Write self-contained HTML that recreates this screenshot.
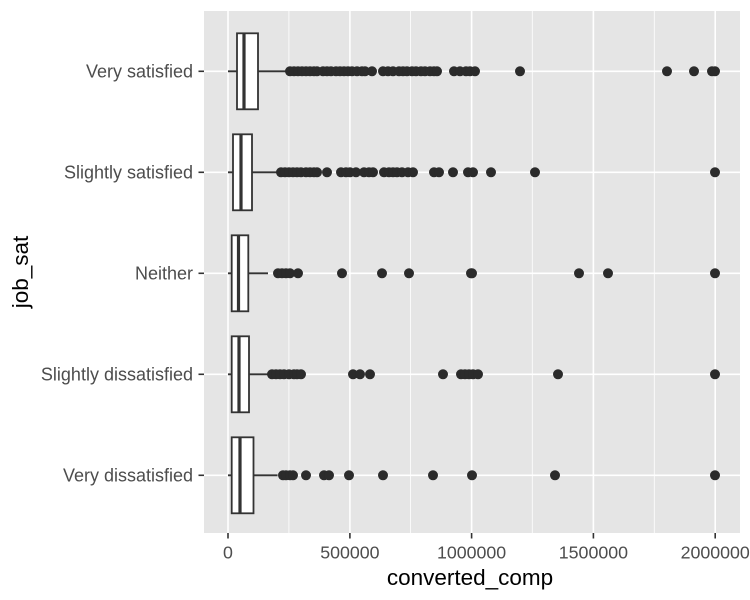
<!DOCTYPE html>
<html><head><meta charset="utf-8"><style>body{margin:0;background:#fff}svg{display:block}</style></head>
<body>
<svg width="750" height="600" xmlns="http://www.w3.org/2000/svg" font-family="Liberation Sans, sans-serif">
<rect x="0" y="0" width="750" height="600" fill="#fff"/>
<rect x="204" y="11" width="536" height="522" fill="#e5e5e5"/>
<g stroke="#fff" stroke-width="0.8">
<line x1="288.9" y1="11" x2="288.9" y2="533"/><line x1="410.5" y1="11" x2="410.5" y2="533"/>
<line x1="532.3" y1="11" x2="532.3" y2="533"/><line x1="654.3" y1="11" x2="654.3" y2="533"/>
</g>
<g stroke="#fff" stroke-width="1.6">
<line x1="228" y1="11" x2="228" y2="533"/><line x1="349.9" y1="11" x2="349.9" y2="533"/>
<line x1="471.6" y1="11" x2="471.6" y2="533"/><line x1="593.4" y1="11" x2="593.4" y2="533"/>
<line x1="715.2" y1="11" x2="715.2" y2="533"/>
<line x1="204" y1="71.3" x2="740" y2="71.3"/><line x1="204" y1="172.3" x2="740" y2="172.3"/>
<line x1="204" y1="273.3" x2="740" y2="273.3"/><line x1="204" y1="374.3" x2="740" y2="374.3"/>
<line x1="204" y1="475.3" x2="740" y2="475.3"/>
</g>
<g stroke="#333" stroke-width="1.8" fill="#fff">
<line x1="228" y1="71.3" x2="288" y2="71.3"/><rect x="237" y="33.3" width="21" height="76"/><line x1="244" y1="33.3" x2="244" y2="109.3" stroke-width="3.2"/>
<line x1="228" y1="172.3" x2="278" y2="172.3"/><rect x="233" y="134.3" width="19" height="76"/><line x1="241" y1="134.3" x2="241" y2="210.3" stroke-width="3.2"/>
<line x1="228" y1="273.3" x2="268" y2="273.3"/><rect x="231.7" y="235.3" width="16.6" height="76"/><line x1="238.5" y1="235.3" x2="238.5" y2="311.3" stroke-width="3.2"/>
<line x1="228" y1="374.3" x2="269" y2="374.3"/><rect x="231.7" y="336.3" width="17.3" height="76"/><line x1="239" y1="336.3" x2="239" y2="412.3" stroke-width="3.2"/>
<line x1="228" y1="475.3" x2="277.6" y2="475.3"/><rect x="231.7" y="437.3" width="21.8" height="76"/><line x1="240" y1="437.3" x2="240" y2="513.3" stroke-width="3.2"/>
</g>
<g fill="#2b2b2b">
<g transform="translate(0,71.3)">
<circle cx="290" r="5"/><circle cx="294" r="5"/><circle cx="298" r="5"/><circle cx="302" r="5"/><circle cx="306" r="5"/><circle cx="310" r="5"/><circle cx="314" r="5"/><circle cx="317" r="5"/><circle cx="323" r="5"/><circle cx="327" r="5"/><circle cx="331" r="5"/><circle cx="336" r="5"/><circle cx="340" r="5"/><circle cx="344" r="5"/><circle cx="348" r="5"/><circle cx="352" r="5"/><circle cx="357" r="5"/><circle cx="362" r="5"/><circle cx="365" r="5"/><circle cx="372" r="5"/><circle cx="383" r="5"/><circle cx="388" r="5"/><circle cx="393" r="5"/><circle cx="399" r="5"/><circle cx="403" r="5"/><circle cx="407" r="5"/><circle cx="412" r="5"/><circle cx="416" r="5"/><circle cx="421" r="5"/><circle cx="425" r="5"/><circle cx="430" r="5"/><circle cx="434" r="5"/><circle cx="437" r="5"/><circle cx="454" r="5"/><circle cx="460" r="5"/><circle cx="466" r="5"/><circle cx="470" r="5"/><circle cx="475" r="5"/><circle cx="520" r="5"/><circle cx="667" r="5"/><circle cx="694" r="5"/><circle cx="712" r="5"/><circle cx="715" r="5"/>
</g>
<g transform="translate(0,172.3)">
<circle cx="281" r="5"/><circle cx="285" r="5"/><circle cx="289" r="5"/><circle cx="293" r="5"/><circle cx="297" r="5"/><circle cx="301" r="5"/><circle cx="306" r="5"/><circle cx="310" r="5"/><circle cx="314" r="5"/><circle cx="317" r="5"/><circle cx="327" r="5"/><circle cx="341" r="5"/><circle cx="346" r="5"/><circle cx="350" r="5"/><circle cx="356" r="5"/><circle cx="364" r="5"/><circle cx="369" r="5"/><circle cx="373" r="5"/><circle cx="384" r="5"/><circle cx="389" r="5"/><circle cx="393" r="5"/><circle cx="397" r="5"/><circle cx="402" r="5"/><circle cx="408" r="5"/><circle cx="413" r="5"/><circle cx="434" r="5"/><circle cx="439" r="5"/><circle cx="453" r="5"/><circle cx="468" r="5"/><circle cx="473" r="5"/><circle cx="491" r="5"/><circle cx="535" r="5"/><circle cx="715" r="5"/>
</g>
<g transform="translate(0,273.3)">
<circle cx="278" r="5"/><circle cx="282" r="5"/><circle cx="286" r="5"/><circle cx="290" r="5"/><circle cx="298" r="5"/><circle cx="342" r="5"/><circle cx="382" r="5"/><circle cx="409" r="5"/><circle cx="471" r="5"/><circle cx="472" r="5"/><circle cx="579" r="5"/><circle cx="608" r="5"/><circle cx="715" r="5"/>
</g>
<g transform="translate(0,374.3)">
<circle cx="272" r="5"/><circle cx="276" r="5"/><circle cx="280" r="5"/><circle cx="284" r="5"/><circle cx="289" r="5"/><circle cx="294" r="5"/><circle cx="297" r="5"/><circle cx="301" r="5"/><circle cx="353" r="5"/><circle cx="360" r="5"/><circle cx="370" r="5"/><circle cx="443" r="5"/><circle cx="461" r="5"/><circle cx="465" r="5"/><circle cx="469" r="5"/><circle cx="473" r="5"/><circle cx="478" r="5"/><circle cx="558" r="5"/><circle cx="715" r="5"/>
</g>
<g transform="translate(0,475.3)">
<circle cx="283" r="5"/><circle cx="286" r="5"/><circle cx="290" r="5"/><circle cx="293" r="5"/><circle cx="306" r="5"/><circle cx="324" r="5"/><circle cx="329" r="5"/><circle cx="349" r="5"/><circle cx="383" r="5"/><circle cx="433" r="5"/><circle cx="472" r="5"/><circle cx="555" r="5"/><circle cx="715" r="5"/>
</g>
</g>
<g stroke="#333" stroke-width="1.6">
<line x1="198.5" y1="71.3" x2="204" y2="71.3"/><line x1="198.5" y1="172.3" x2="204" y2="172.3"/><line x1="198.5" y1="273.3" x2="204" y2="273.3"/><line x1="198.5" y1="374.3" x2="204" y2="374.3"/><line x1="198.5" y1="475.3" x2="204" y2="475.3"/>
<line x1="228" y1="533" x2="228" y2="538.5"/><line x1="349.9" y1="533" x2="349.9" y2="538.5"/><line x1="471.6" y1="533" x2="471.6" y2="538.5"/><line x1="593.4" y1="533" x2="593.4" y2="538.5"/><line x1="715.2" y1="533" x2="715.2" y2="538.5"/>
</g>
<g fill="#4d4d4d" font-size="18" text-anchor="end">
<text x="193" y="77.5">Very satisfied</text>
<text x="193" y="178.5">Slightly satisfied</text>
<text x="193" y="279.5">Neither</text>
<text x="193" y="380.5">Slightly dissatisfied</text>
<text x="193" y="481.5">Very dissatisfied</text>
</g>
<g fill="#4d4d4d" font-size="17.8" text-anchor="middle">
<text x="228" y="558.5">0</text><text x="349.9" y="558.5">500000</text><text x="471.6" y="558.5">1000000</text><text x="593.4" y="558.5">1500000</text><text x="715.2" y="558.5">2000000</text>
</g>
<text x="470" y="585" font-size="22.5" text-anchor="middle" fill="#000">converted_comp</text>
<text transform="translate(28,272) rotate(-90)" font-size="22.5" text-anchor="middle" fill="#000">job_sat</text>
</svg>
</body></html>
